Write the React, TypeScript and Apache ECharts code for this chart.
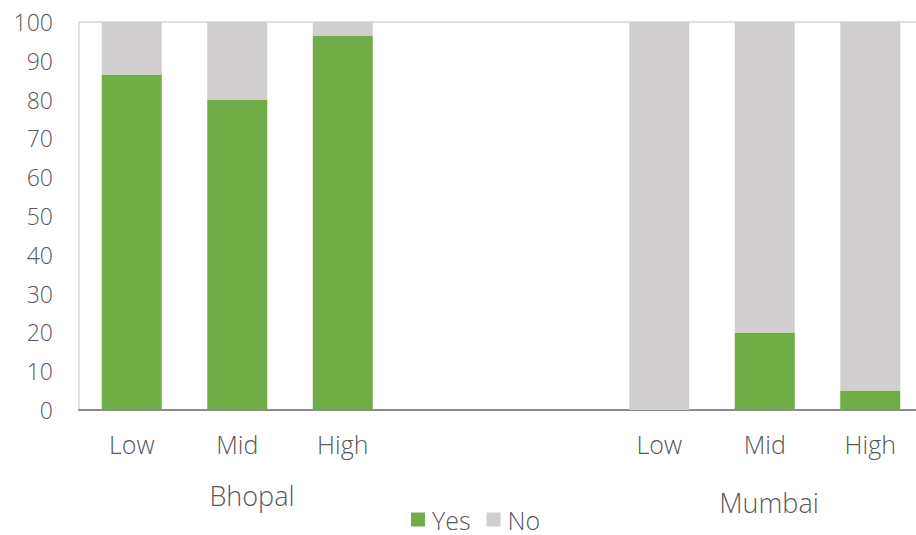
import React, { useEffect, useRef } from "react";
import * as echarts from "echarts";

// Income bands within each city; the two blank slots separate the cities.
const categories = ["Low", "Mid", "High", "", "", "Low", "Mid", "High"];
const yesValues = [86.5, 80, 96.5, null, null, 0, 20, 5];
const noValues = [13.5, 20, 3.5, null, null, 100, 80, 95];
const cityLabels = ["Bhopal", "Mumbai"];
const yTicks = { min: 0, max: 100, interval: 10 };

const FONT = "'Open Sans', 'Liberation Sans', sans-serif";
const TEXT = "#595959";

export default function App() {
  const ref = useRef<HTMLDivElement>(null);

  useEffect(() => {
    if (!ref.current) return;
    const chart = echarts.init(ref.current, null, { renderer: "svg" });
    chart.setOption({
      animation: false,
      backgroundColor: "#ffffff",
      textStyle: { fontFamily: FONT, fontWeight: 300, color: TEXT },
      grid: {
        left: 79,
        top: 22,
        width: 844,
        height: 388,
        outerBoundsMode: "none",
        containLabel: false,
        show: true,
        borderColor: "#d6d6d6",
        borderWidth: 1.5,
        backgroundColor: "transparent",
      },
      legend: {
        data: ["Yes", "No"],
        left: 411,
        top: 507,
        padding: 0,
        icon: "rect",
        itemWidth: 14,
        itemHeight: 14,
        itemGap: 16,
        textStyle: {
          fontFamily: FONT,
          fontWeight: 300,
          fontSize: 25,
          lineHeight: 25,
          color: TEXT,
          padding: [0, 0, 0, 2],
        },
      },
      xAxis: {
        type: "category",
        data: categories,
        axisLine: { lineStyle: { color: "#8c8c8c", width: 2 } },
        axisTick: { show: false },
        axisLabel: {
          fontFamily: FONT,
          fontWeight: 300,
          fontSize: 25,
          color: TEXT,
          margin: 21,
          interval: 0,
        },
      },
      yAxis: {
        type: "value",
        min: yTicks.min,
        max: yTicks.max,
        interval: yTicks.interval,
        splitLine: { show: false },
        axisLine: { show: false },
        axisTick: { show: false },
        axisLabel: {
          fontFamily: FONT,
          fontWeight: 300,
          fontSize: 23,
          color: TEXT,
          margin: 26,
        },
      },
      series: [
        {
          name: "Yes",
          type: "bar",
          stack: "share",
          data: yesValues,
          barWidth: 60,
          itemStyle: { color: "#70ad47" },
        },
        {
          name: "No",
          type: "bar",
          stack: "share",
          data: noValues,
          barWidth: 60,
          itemStyle: { color: "#d0cece" },
        },
      ],
      graphic: [
        {
          type: "text",
          x: 252,
          y: 482,
          style: {
            text: cityLabels[0],
            font: `300 27px ${FONT}`,
            fill: TEXT,
            align: "center",
          },
        },
        {
          type: "text",
          x: 769,
          y: 489,
          style: {
            text: cityLabels[1],
            font: `300 27px ${FONT}`,
            fill: TEXT,
            align: "center",
          },
        },
      ],
    });
    return () => chart.dispose();
  }, []);

  return <div ref={ref} style={{ width: 916, height: 535, position: "absolute", left: 0, top: 0 }} />;
}
